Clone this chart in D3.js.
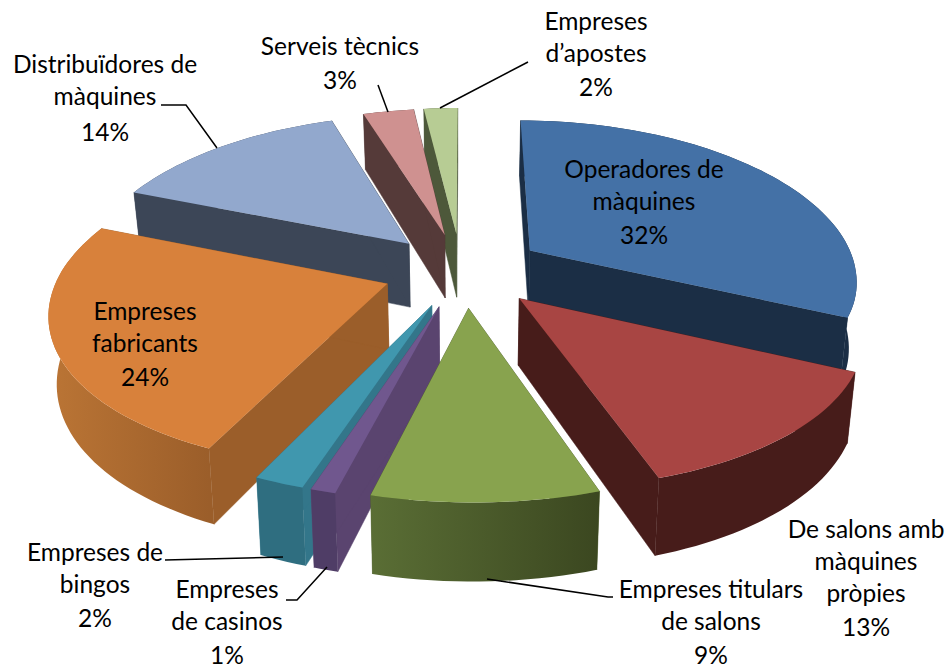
<!DOCTYPE html>
<html>
<head>
<meta charset="utf-8">
<script src="https://cdn.jsdelivr.net/npm/d3@7"></script>
<style>
  html, body { margin: 0; padding: 0; background: #fff; }
  text { font-family: Lato, "Open Sans", sans-serif; font-size: 24.5px; fill: #000; text-anchor: middle; }
</style>
</head>
<body>
<svg></svg>
<script>
var width = 951;
var height = 669;

var categories = ['Operadores de màquines', 'De salons amb màquines pròpies', 'Empreses titulars de salons',
    'Empreses de casinos', 'Empreses de bingos', 'Empreses fabricants', 'Distribuïdores de màquines',
    'Serveis tècnics', 'Empreses d’apostes'];
var values = [32, 13, 9, 1, 2, 24, 14, 3, 2];

var topColors = ['#4471a6', '#a84543', '#88a34e', '#70578e', '#4097ae', '#d8813b', '#92a8cd', '#cf9190', '#b7cc94'];
var wallColors = ['#1b2e45', '#471c1a', '#4e5f2c', '#5a446f', '#33768a', '#9b5e2a', '#3c4657', '#553a39', '#4d583a'];
var rimLeft = ['#1b2e45', '#471c1a', '#5a6e35', '#4f3d66', '#2f6e80', '#bb7535', '#3c4657', '#553a39', '#4d583a'];
var rimRight = ['#1b2e45', '#471c1a', '#3b4720', '#4f3d66', '#2f6e80', '#9b5e2a', '#3c4657', '#553a39', '#4d583a'];

var labelLayout = [
    { x: 644, y: [178, 210, 244], lines: ['Operadores de', 'màquines', '32%'] },
    { x: 866, y: [538, 570, 602, 636], lines: ['De salons amb', 'màquines', 'pròpies', '13%'] },
    { x: 711, y: [598, 630, 664], lines: ['Empreses titulars', 'de salons', '9%'] },
    { x: 227, y: [598, 630, 664], lines: ['Empreses', 'de casinos', '1%'] },
    { x: 95, y: [561, 593, 627], lines: ['Empreses de', 'bingos', '2%'] },
    { x: 145, y: [320, 352, 386], lines: ['Empreses', 'fabricants', '24%'] },
    { x: 105, y: [73, 105, 141], lines: ['Distribuïdores de', 'màquines', '14%'] },
    { x: 340, y: [55, 89], lines: ['Serveis tècnics', '3%'] },
    { x: 596, y: [30, 62, 96], lines: ['Empreses', 'd’apostes', '2%'] }
];

var leaders = [
    [[487, 579], [608, 597], [613, 597]],
    [[327, 567], [297, 600], [286, 600]],
    [[283, 557], [165, 560]],
    [[161, 105], [186, 105], [217, 148]],
    [[378, 85], [388, 112]],
    [[528, 62], [440, 108]]
];

// pie geometry, fitted by eye to the perspective of the picture
var cx = 465, cy = 270, rx = 327, ry = 154, persp = 0.144, perspX = 0.17, skew = 4;
var explode = 0.24, leftNudge = 0.012, depth = 65, bottomShrink = 0.98;

var svg = d3.select('svg')
    .attr('width', width)
    .attr('height', height)
    .style('display', 'block');

var defs = svg.append('defs');

var project = function (wx, wy, low) {
    var k = 1 / (1 - persp * wy);
    var sx = rx * wx / (1 - perspX * wy) + skew * Math.max(0, wy);
    var sy = ry * wy * k;
    if (low) {
        return [cx + sx * bottomShrink, cy + sy + depth * k];
    }
    return [cx + sx, cy + sy];
};

var pie = d3.pie().sort(null).startAngle(0).endAngle(2 * Math.PI);
var line = d3.line();

var slices = pie(values).map(function (d, i) {
    var mid = (d.startAngle + d.endAngle) / 2;
    var ox = explode * Math.sin(mid);
    var oy = -explode * Math.cos(mid);
    if (mid > Math.PI) {
        ox -= leftNudge;
    }
    var steps = Math.max(4, Math.ceil((d.endAngle - d.startAngle) / 0.03));
    var rim = d3.range(steps + 1).map(function (s) {
        var a = d.startAngle + (d.endAngle - d.startAngle) * s / steps;
        return [ox + Math.sin(a), oy - Math.cos(a)];
    });
    return { i: i, ox: ox, oy: oy, mid: mid, rim: rim };
});

var toPath = function (pts, low) {
    return line(pts.map(function (p) { return project(p[0], p[1], low); })) + 'Z';
};

// back slices first so the front ones paint over them
slices.sort(function (a, b) { return -Math.cos(a.mid) - -Math.cos(b.mid); });

slices.forEach(function (s) {
    var g = svg.append('g').attr('class', 'slice');
    var apex = [s.ox, s.oy];
    var first = s.rim[0];
    var last = s.rim[s.rim.length - 1];

    var wall = function (p) {
        var a = project(apex[0], apex[1], false);
        var b = project(p[0], p[1], false);
        var c = project(p[0], p[1], true);
        var e = project(apex[0], apex[1], true);
        g.append('path')
            .attr('d', line([a, b, c, e]) + 'Z')
            .attr('fill', wallColors[s.i])
            .attr('stroke', wallColors[s.i])
            .attr('stroke-width', 0.5);
    };
    wall(first);
    wall(last);

    var upper = s.rim.map(function (p) { return project(p[0], p[1], false); });
    var lower = s.rim.map(function (p) { return project(p[0], p[1], true); }).reverse();
    var xs = d3.extent(upper, function (p) { return p[0]; });
    var gradId = 'rim' + s.i;
    var grad = defs.append('linearGradient')
        .attr('id', gradId)
        .attr('gradientUnits', 'userSpaceOnUse')
        .attr('x1', xs[0]).attr('x2', xs[1])
        .attr('y1', 0).attr('y2', 0);
    grad.append('stop').attr('offset', 0).attr('stop-color', rimLeft[s.i]);
    grad.append('stop').attr('offset', 1).attr('stop-color', rimRight[s.i]);

    g.append('path')
        .attr('d', line(upper.concat(lower)) + 'Z')
        .attr('fill', 'url(#' + gradId + ')');

    g.append('path')
        .attr('d', toPath([apex].concat(s.rim), false))
        .attr('fill', topColors[s.i]);
});

svg.selectAll('polyline.leader')
    .data(leaders)
    .enter()
    .append('polyline')
    .attr('class', 'leader')
    .attr('points', function (d) { return d.join(' '); })
    .attr('fill', 'none')
    .attr('stroke', '#000')
    .attr('stroke-width', 1.5);

labelLayout.forEach(function (l) {
    var t = svg.append('text').attr('x', l.x);
    l.lines.forEach(function (txt, j) {
        t.append('tspan').attr('x', l.x).attr('y', l.y[j]).text(txt);
    });
});
</script>
</body>
</html>
